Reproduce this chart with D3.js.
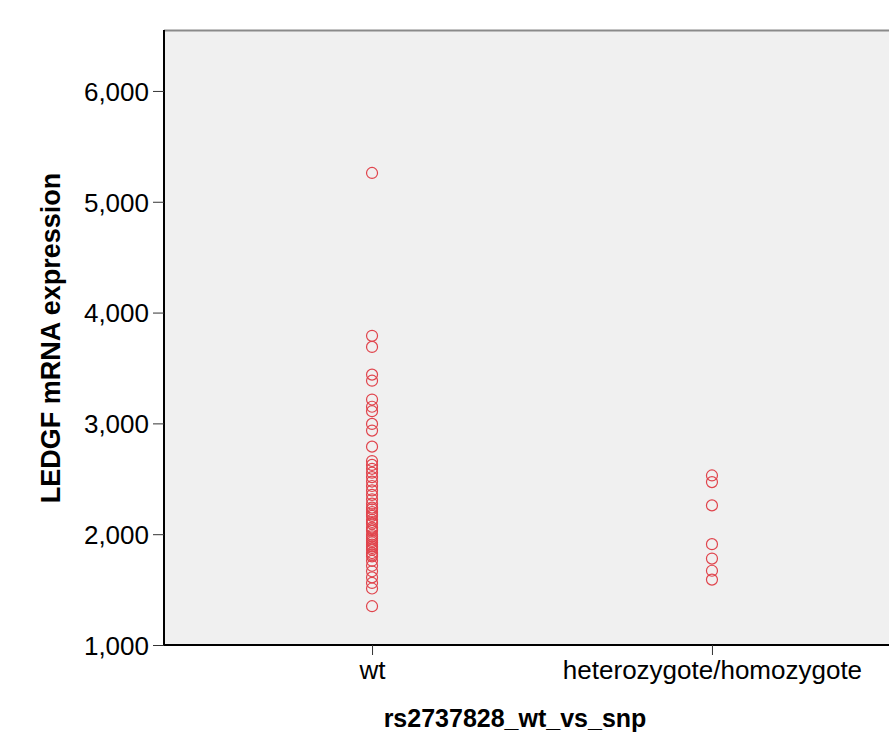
<!DOCTYPE html>
<html>
<head>
<meta charset="utf-8">
<script src="https://cdn.jsdelivr.net/npm/d3@7"></script>
<style>
  body { margin: 0; background: #fff; }
  svg text { font-family: "Liberation Sans", Arial, sans-serif; }
</style>
</head>
<body>
<div id="chart"></div>
<script>

// data

var categories = ["wt", "heterozygote/homozygote"];

var wtValues = [5260, 3790, 3690, 3440, 3385, 3215, 3150, 3110, 2995, 2935, 2790,
  2660, 2625, 2590, 2555, 2515, 2475, 2435, 2395, 2355, 2315, 2275, 2240,
  2225, 2200, 2180, 2165, 2130, 2110, 2095, 2060, 2045, 2030, 1995, 1980,
  1960, 1940, 1925, 1905, 1890, 1875, 1860, 1830, 1815,
  1800, 1760, 1715, 1665, 1610, 1560, 1510, 1350];

var hetValues = [2530, 2470, 2260, 1910, 1780, 1670, 1590];

var yTicks = [1000, 2000, 3000, 4000, 5000, 6000];

// margins and sizes

var width = 889,
    height = 734,
    marginLeft = 164,
    marginTop = 30,
    plotWidth = 756,
    plotHeight = 615;

var formatNum = d3.format(",.0f");

var svg = d3.select("#chart").append("svg")
  .attr("width", width)
  .attr("height", height);

var g = svg.append("g")
  .attr("transform", "translate(" + marginLeft + "," + marginTop + ")");

// scales

var x = d3.scalePoint()
  .domain(categories)
  .range([0, plotWidth])
  .padding(0.612);

var y = d3.scaleLinear()
  .domain([1000, 6550])
  .range([plotHeight, 0]);

// plot background

g.append("rect")
  .attr("width", plotWidth)
  .attr("height", plotHeight)
  .attr("fill", "#f0f0f0");

g.append("line")
  .attr("x1", 0).attr("x2", plotWidth)
  .attr("y1", 0.5).attr("y2", 0.5)
  .attr("stroke", "#8a8a8a")
  .attr("stroke-width", 2);

// points

var points = [];
wtValues.forEach(function(v) { points.push({cat: categories[0], value: v}); });
hetValues.forEach(function(v) { points.push({cat: categories[1], value: v}); });

g.selectAll(".dot")
  .data(points)
  .enter()
    .append("circle")
      .attr("class", "dot")
      .attr("cx", function(d) { return x(d.cat); })
      .attr("cy", function(d) { return y(d.value); })
      .attr("r", 5.5)
      .attr("fill", "none")
      .attr("stroke", "#e0444c")
      .attr("stroke-width", 1.2);

// axes

var yAxis = g.append("g")
  .call(d3.axisLeft(y).tickValues(yTicks).tickFormat(formatNum).tickSize(11).tickPadding(4));

var xAxis = g.append("g")
  .attr("transform", "translate(0," + plotHeight + ")")
  .call(d3.axisBottom(x).tickSize(10).tickPadding(6));

[yAxis, xAxis].forEach(function(a) {
  a.select(".domain").attr("stroke", "#000").attr("stroke-width", 2);
  a.selectAll(".tick line").attr("stroke", "#333").attr("stroke-width", 1);
  a.selectAll(".tick text").attr("fill", "#000").style("font-size", "26px");
});

yAxis.selectAll(".tick text").attr("dy", "0.36em");
yAxis.select(".domain").attr("d", "M0," + plotHeight + "V0");
xAxis.select(".domain").attr("d", "M0,0H" + plotWidth);

// axis titles

svg.append("text")
  .attr("x", 515)
  .attr("y", 727)
  .attr("text-anchor", "middle")
  .style("font-size", "25px")
  .style("font-weight", "bold")
  .text("rs2737828_wt_vs_snp");

svg.append("text")
  .attr("transform", "translate(60,338) rotate(-90)")
  .attr("text-anchor", "middle")
  .style("font-size", "27px")
  .style("font-weight", "bold")
  .text("LEDGF mRNA expression");

</script>
</body>
</html>
